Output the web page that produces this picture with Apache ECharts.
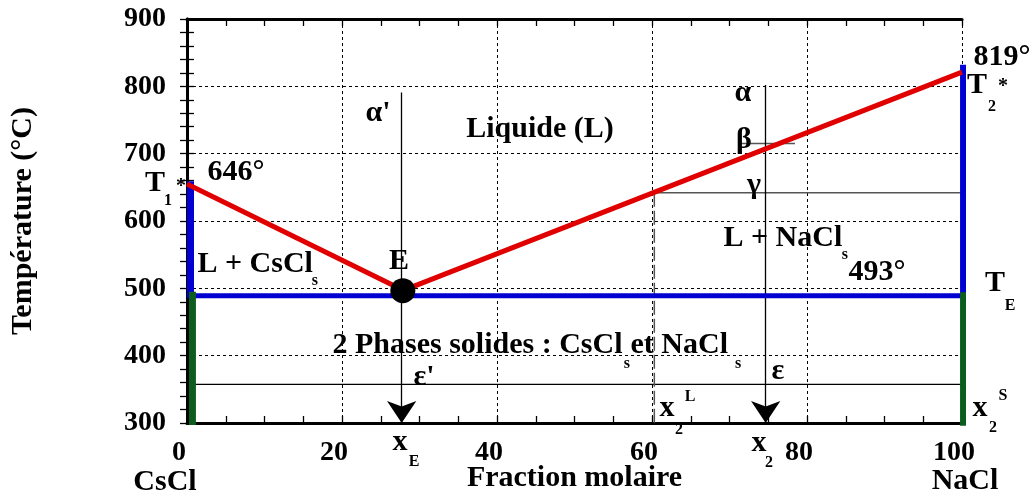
<!DOCTYPE html>
<html><head><meta charset="utf-8">
<script src="https://cdn.jsdelivr.net/npm/echarts@6/dist/echarts.min.js"></script>
<style>html,body{margin:0;padding:0;background:#fff}#c{width:1031px;height:492px}</style>
</head><body><div id="c"></div>
<script>
// ---- axis ranges ----
const X_MIN = 0, X_MAX = 100, X_STEP = 20;
const Y_MIN = 300, Y_MAX = 900, Y_STEP = 100;

// ---- phase diagram lines (x = mole fraction NaCl %, y = °C) ----
const liquidusCsCl = [[0, 655], [27.9, 497]];
const liquidusNaCl = [[27.9, 497], [100, 821]];
const eutecticLine = [[0, 489], [100, 489]];
const csclMeltLine = [[0.45, 489], [0.45, 659]];
const csclSolidLine = [[0.7, 297], [0.7, 495]];
const naclMeltLine = [[100.2, 491], [100.2, 832]];
const naclSolidLine = [[100.2, 296], [100.2, 494]];
const eutecticPoint = [[27.85, 496.5]];
const coolingE = [[27.7, 791], [27.7, 300]];
const cooling2 = [[74.67, 802], [74.67, 300]];
const betaLine = [[71.35, 715], [78.45, 715]];
const gammaLine = [[60, 642], [100, 642]];
const xLiquidLine = [[60.3, 642], [60.3, 300]];
const epsilonLine = [[0, 357.5], [100, 357.5]];

// ---- annotations [x, y, text] ----
const textLeft = [
  [2.58, 672.8, '646°'], [1.29, 536.1, 'L + CsCl'], [22.97, 760.4, "α'"],
  [69.16, 574.7, 'L + NaCl'], [85.29, 524.2, '493°'], [101.42, 843.6, '819°'],
  [18.71, 415.8, '2 Phases solides : CsCl'], [57.16, 415.8, 'et NaCl'], [29.16, 368.3, "ε'"]
];
const textCenter = [
  [-4.13, 656.4, 'T'], [27.35, 540.6, 'E'], [45.55, 736.6, 'Liquide (L)'],
  [71.74, 790.1, 'α'], [71.87, 720.3, 'β'], [73.16, 653.5, 'γ'],
  [101.94, 802, 'T'], [104.26, 507.9, 'T'], [102.32, 322.3, 'x'],
  [76.26, 377.2, 'ε'], [61.94, 322.3, 'x'], [27.48, 271.8, 'x'], [73.81, 270.3, 'x'],
  [-2.84, 212.3, 'CsCl'], [100.39, 213.8, 'NaCl']
];
const textSub = [
  [-2.45, 629.7, '1'], [16.5, 510.9, 's'], [84.9, 549.5, 's'], [103.87, 769.3, '2'],
  [106.19, 473.7, 'E'], [104, 292.6, '2'], [105.29, 340.1, 'S'], [56.77, 387.6, 's'],
  [71.1, 387.6, 's'], [63.48, 289.6, '2'], [64.9, 338.6, 'L'], [29.29, 242, 'E'], [75.1, 240.6, '2']
];
const textStar = [[-0.77, 650.5, '*'], [105.29, 799, '*']];

const FONT = '"Liberation Serif", "Times New Roman", serif';
const RED = '#e00000', BLUE = '#0000d2', GREEN = '#0b5c1e';

function seg(data, color, width, type, z) {
  return { type: 'line', data, symbol: 'none', clip: false, silent: true, z: z || 2,
    lineStyle: { color, width, type: type || 'solid', cap: 'butt', opacity: 1 } };
}
function texts(data, size, left) {
  return { type: 'scatter', data, symbolSize: 1, clip: false, silent: true, z: 10,
    itemStyle: { color: 'rgba(0,0,0,0)', opacity: 1 },
    label: { show: true, position: left ? 'right' : 'inside', distance: 0, opacity: 1,
      textBorderWidth: 0,
      formatter: p => p.data[2], fontFamily: FONT, fontWeight: 'bold', fontSize: size, color: '#000' } };
}
const axisLineStyle = { color: '#000', width: 3 };
function xAx(pos, main) {
  return { type: 'value', min: X_MIN, max: X_MAX, interval: X_STEP, position: pos,
    axisLine: { show: true, lineStyle: axisLineStyle },
    axisTick: { show: true, inside: true, length: 7, lineStyle: { color: '#000', width: 1.3 } },
    minorTick: { show: true, splitNumber: 4, length: 7, lineStyle: { color: '#000', width: 1.3 } },
    splitLine: { show: main, lineStyle: { color: '#000', width: 1, type: [3, 3] } },
    axisLabel: { show: main, fontFamily: FONT, fontWeight: 'bold', fontSize: 28, color: '#000',
      margin: 30, verticalAlign: 'middle', padding: [0, 16, 0, 0] },
    name: main ? 'Fraction molaire' : '', nameLocation: 'middle', nameGap: 55, nameMoveOverlap: false,
    nameTextStyle: { fontFamily: FONT, fontWeight: 'bold', fontSize: 30, color: '#000', verticalAlign: 'middle' } };
}
function yAx(pos, main) {
  return { type: 'value', min: Y_MIN, max: Y_MAX, interval: Y_STEP, position: pos,
    axisLine: { show: true, lineStyle: axisLineStyle },
    axisTick: { show: true, inside: true, length: 7, lineStyle: { color: '#000', width: 1.3 } },
    minorTick: { show: true, splitNumber: 5, length: 7, lineStyle: { color: '#000', width: 1.3 } },
    splitLine: { show: main, lineStyle: { color: '#000', width: 1, type: [3, 3] } },
    axisLabel: { show: main, fontFamily: FONT, fontWeight: 'bold', fontSize: 28, color: '#000', margin: 21 },
    name: main ? 'Température (°C)' : '', nameLocation: 'middle', nameGap: 164, nameRotate: 90,
    nameMoveOverlap: false,
    nameTextStyle: { fontFamily: FONT, fontWeight: 'bold', fontSize: 30, color: '#000', verticalAlign: 'middle' } };
}

const chart = echarts.init(document.getElementById('c'), null, { renderer: 'canvas' });
chart.setOption({
  animation: false,
  backgroundColor: '#fff',
  grid: { left: 187, right: 69, top: 19, bottom: 69, containLabel: false, outerBoundsMode: 'none' },
  xAxis: [xAx('bottom', true), xAx('top', false)],
  yAxis: [yAx('left', true), yAx('right', false)],
  series: [
    seg(epsilonLine, '#000', 1.3),
    seg(gammaLine, '#555', 1.5),
    seg(betaLine, '#555', 1.5),
    seg(xLiquidLine, '#555', 1.5, [14, 4]),
    { type: 'lines', coordinateSystem: 'cartesian2d', silent: true, z: 3,
      symbol: ['none', 'arrow'], symbolSize: [14, 22],
      data: [{ coords: coolingE }, { coords: cooling2 }],
      itemStyle: { color: '#000', opacity: 1 },
      lineStyle: { color: '#000', width: 1.3, opacity: 1 } },
    seg(eutecticLine, BLUE, 5, 'solid', 4),
    seg(csclMeltLine, BLUE, 7, 'solid', 4),
    seg(naclMeltLine, BLUE, 7, 'solid', 4),
    seg(csclSolidLine, GREEN, 7, 'solid', 5),
    seg(naclSolidLine, GREEN, 7, 'solid', 5),
    seg(liquidusCsCl, RED, 5, 'solid', 6),
    seg(liquidusNaCl, RED, 5, 'solid', 6),
    { type: 'scatter', data: eutecticPoint, symbolSize: 25, silent: true, z: 7,
      itemStyle: { color: '#000', opacity: 1 } },
    texts(textLeft, 30, true),
    texts(textCenter, 30, false),
    texts(textSub, 16, false),
    texts(textStar, 20, false)
  ]
});
</script>
</body></html>
